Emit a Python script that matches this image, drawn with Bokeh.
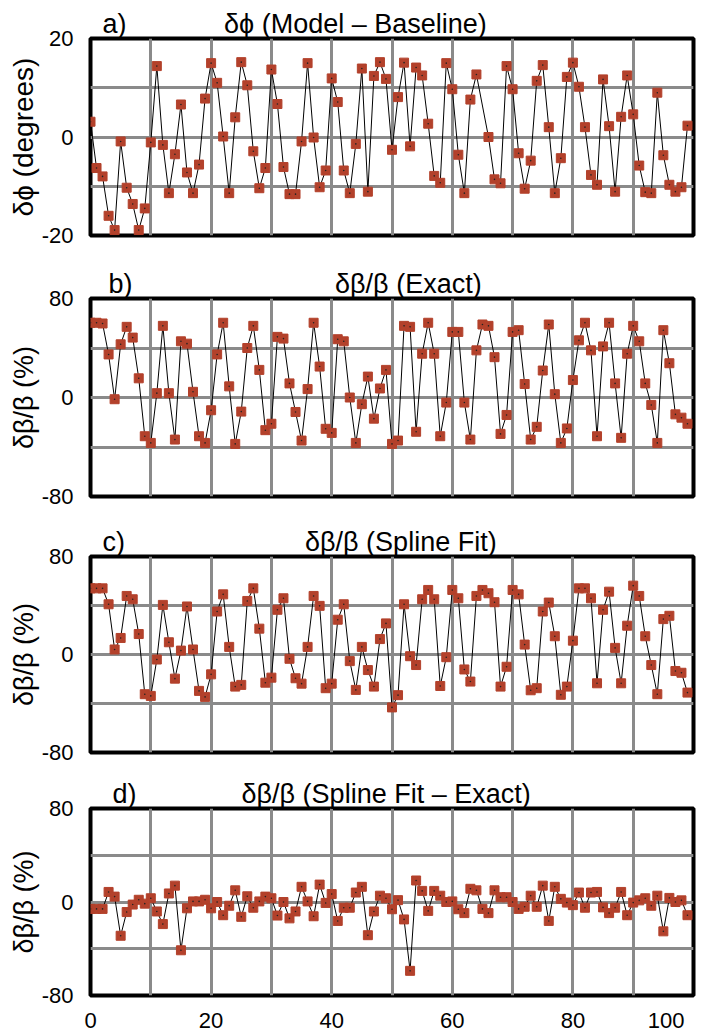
from bokeh.plotting import figure
from bokeh.layouts import column
from bokeh.models import Range1d, FixedTicker, Title
from bokeh.embed import file_html
from bokeh.resources import INLINE

# ---------------- data ----------------
index = list(range(100))
phase_index = [i for i in index if i != 65]   # no marker at element 65 in panel a

phase_diff = [3.1, -6.3, -8.0, -16.0, -18.9, -0.9, -10.3, -13.6, -18.9, -14.5,
              -1.1, 14.4, -1.6, -11.4, -3.5, 6.6, -7.2, -11.4, -5.6, 7.8,
              15.0, 11.0, 0.1, -11.4, 4.0, 15.2, 10.5, -2.9, -10.4, -6.3,
              13.7, 6.7, -6.1, -11.6, -11.6, -0.9, 15.0, -0.1, -10.2, -6.8,
              11.9, 7.1, -6.8, -11.4, -1.4, 13.9, -11.1, 12.4, 15.2, 11.8,
              -2.6, 8.1, 15.1, -1.9, 14.1, 12.5, 2.7, -7.9, -9.3, 15.0,
              9.7, -3.6, -11.4, 7.6, 12.7, 0.0, -8.6, -9.4, 14.4,
              9.7, -3.3, -10.5, -4.8, 11.4, 14.6, 2.0, -11.4, -4.3, 12.2,
              15.1, 10.2, 2.0, -7.7, -9.7, 11.7, 2.2, -11.1, 4.1, 12.5,
              4.6, -5.8, -11.2, -11.4, 9.0, -3.7, -9.7, -11.1, -10.2, 2.3]

beta_exact = [60.4, 60.4, 59.8, 34.8, -1.4, 43.0, 57.1, 48.4, 15.5, -31.3,
              -36.7, 3.5, 57.9, 3.5, -34.0, 45.4, 43.5, 4.6, -31.3, -36.7,
              -10.3, 34.8, 60.4, 9.0, -37.5, -11.4, 40.0, 57.9, 22.3, -26.4,
              -21.2, 49.0, 47.6, 11.4, -11.7, -34.8, 6.8, 60.4, 25.0, -25.3,
              -28.6, 47.1, 45.4, 0.0, -36.7, -5.4, 16.9, -17.1, 7.3, 22.3,
              -37.5, -34.8, 57.9, 57.1, -27.7, 35.4, 60.4, 35.4, -31.3, -4.1,
              53.0, 53.0, -4.1, -34.0, 38.1, 59.0, 57.9, 32.6, -29.4, -14.1,
              53.0, 54.4, 10.9, -34.0, -23.7, 21.8, 59.0, 2.7, -36.7, -25.0,
              14.1, 46.2, 60.4, 38.1, -31.3, 41.3, 60.4, 11.4, -32.6, 35.4,
              57.9, 45.4, 11.4, -6.0, -36.7, 54.4, 27.7, -13.6, -16.3, -21.2]

beta_spline = [54.0, 54.0, 54.0, 41.0, 4.1, 13.5, 47.8, 45.1, 16.7, -32.4,
               -33.8, -4.1, 40.5, 10.0, -19.7, 3.2, 39.2, 4.1, -29.7, -34.6,
               -16.2, 35.1, 49.1, 6.2, -26.2, -24.8, 43.7, 54.0, 21.1, -23.0,
               -18.9, 36.5, 45.9, -3.5, -19.4, -23.8, 6.2, 47.8, 39.7, -27.5,
               -23.8, 28.4, 41.0, -5.4, -28.9, 6.2, -12.7, -26.2, 12.6, 25.4,
               -43.2, -33.2, 41.0, -1.4, -8.6, 45.1, 52.7, 45.1, -25.7, -2.2,
               52.7, 45.9, -12.2, -22.1, 47.8, 52.7, 50.0, 42.7, -26.2, -10.0,
               52.7, 49.1, 8.1, -29.2, -27.5, 35.1, 42.4, 14.9, -32.9, -26.2,
               11.3, 54.0, 54.0, 45.9, -23.5, 36.5, 51.3, 5.4, -23.5, 23.5,
               56.2, 47.8, 14.9, -8.6, -32.4, 28.9, 31.6, -13.5, -14.9, -31.1]

beta_error = [-5.9, -5.9, -5.9, 8.6, 4.6, -28.9, -8.6, -2.2, 1.9, -1.4,
              3.2, -8.1, -18.9, 7.3, 14.0, -41.3, -5.4, 0.5, 0.5, 1.9,
              -5.4, 0.0, -11.3, -3.2, 10.0, -12.7, 4.9, -4.9, 0.5, 4.6,
              3.2, -11.6, 0.0, -14.0, -8.1, 13.0, 0.5, -12.2, 14.9, -0.8,
              6.8, -16.2, -4.9, -4.9, 8.1, 13.0, -28.4, -8.1, 5.4, 3.2,
              -6.2, 1.6, -14.9, -58.9, 18.4, 9.5, -7.6, 9.5, 5.4, 0.0,
              0.5, -6.2, -9.5, 11.3, 10.0, -5.9, -9.5, 10.0, 4.1, 4.1,
              0.0, -5.9, -4.1, 5.4, -4.1, 14.0, -16.2, 13.0, 2.7, -0.5,
              -2.7, 8.1, -4.9, 8.1, 8.6, -4.6, -9.5, -4.9, 8.6, -11.3,
              -0.5, 1.4, 3.2, -3.2, 5.4, -25.1, 3.5, 0.0, 1.4, -11.3]

x_grid = [10, 20, 30, 40, 50, 60, 70, 80, 90]
x_ticks = [0, 20, 40, 60, 80, 100]

panel_letters = ["a)", "b)", "c)", "d)"]
panel_titles = ["δϕ (Model – Baseline)", "δβ/β (Exact)",
                "δβ/β (Spline Fit)", "δβ/β (Spline Fit – Exact)"]
y_labels = ["δϕ (degrees)", "δβ/β (%)", "δβ/β (%)", "δβ/β (%)"]

panels = [
    dict(x=phase_index, y=phase_diff, ylim=(-20, 20), yticks=[-20, 0, 20], ygrid=[-10, 0, 10]),
    dict(x=index, y=beta_exact, ylim=(-80, 80), yticks=[-80, 0, 80], ygrid=[-40, 0, 40]),
    dict(x=index, y=beta_spline, ylim=(-80, 80), yticks=[-80, 0, 80], ygrid=[-40, 0, 40]),
    dict(x=index, y=beta_error, ylim=(-80, 80), yticks=[-80, 0, 80], ygrid=[-40, 0, 40]),
]

# layout: (border top, frame height, border bottom), letter offset, gap (nbsp count)
sizes = [(38, 197, 30), (33, 198, 27), (33, 196, 23), (33, 197, 30)]
letter_offset = [12, 18, 12, 22]
gap_count = [13, 27, 24, 14]
ylabel_size = ["28px", "27px", "27px", "27px"]

FONT = "Liberation Sans"
MARK = "#b3412b"
NBSP = "\u00a0"

figs = []
for k, (cfg, (top, fh, bot)) in enumerate(zip(panels, sizes)):
    last = (k == len(panels) - 1)
    p = figure(width=706, height=top + fh + bot, title=None,
               x_range=Range1d(0, 100), y_range=Range1d(*cfg["ylim"]),
               output_backend="svg", toolbar_location=None,
               min_border_left=90, min_border_right=13,
               min_border_top=top, min_border_bottom=bot)
    p.background_fill_color = "white"
    p.border_fill_color = "white"
    p.outline_line_color = "black"
    p.outline_line_width = 4

    heading = panel_letters[k] + NBSP * gap_count[k] + panel_titles[k]
    p.add_layout(Title(text=heading, align="left", offset=letter_offset[k], standoff=0,
                       text_font=FONT, text_font_size="27px", text_font_style="normal",
                       text_color="black"), "above")

    # y axis
    ya = p.yaxis[0]
    ya.ticker = FixedTicker(ticks=cfg["yticks"])
    ya.major_label_overrides = {t: str(t) for t in cfg["yticks"]}
    ya.axis_line_color = None
    ya.major_tick_line_color = None
    ya.minor_tick_line_color = None
    ya.major_label_text_font = FONT
    ya.major_label_text_font_size = "22px"
    ya.major_label_text_color = "black"
    ya.major_label_standoff = 11
    ya.axis_label = y_labels[k]
    ya.axis_label_text_font = FONT
    ya.axis_label_text_font_size = ylabel_size[k]
    ya.axis_label_text_font_style = "normal"
    ya.axis_label_text_color = "black"
    ya.axis_label_standoff = 0

    # x axis
    xa = p.xaxis[0]
    if last:
        xa.ticker = FixedTicker(ticks=x_ticks)
        ov = {t: str(t) for t in x_ticks}
        ov[100] = "100\u2002\u2002"
        xa.major_label_overrides = ov
        xa.axis_line_color = None
        xa.major_tick_line_color = None
        xa.minor_tick_line_color = None
        xa.major_label_text_font = FONT
        xa.major_label_text_font_size = "22px"
        xa.major_label_text_color = "black"
        xa.major_label_standoff = 6
    else:
        xa.visible = False

    p.xgrid.ticker = FixedTicker(ticks=x_grid)
    p.ygrid.ticker = FixedTicker(ticks=cfg["ygrid"])
    p.xgrid.grid_line_color = "#8a8a8a"
    p.ygrid.grid_line_color = "#8a8a8a"
    p.xgrid.grid_line_width = 3
    p.ygrid.grid_line_width = 3

    p.line(cfg["x"], cfg["y"], line_color="black", line_width=1)
    p.scatter(cfg["x"], cfg["y"], marker="square", size=9,
              fill_color=MARK, line_color=MARK, line_width=1)
    p.scatter(cfg["x"], cfg["y"], marker="circle", size=1.6,
              fill_color="#222222", line_color=None)
    figs.append(p)

layout = column(*figs, spacing=0)
open("out.html", "w").write(file_html(layout, INLINE))
